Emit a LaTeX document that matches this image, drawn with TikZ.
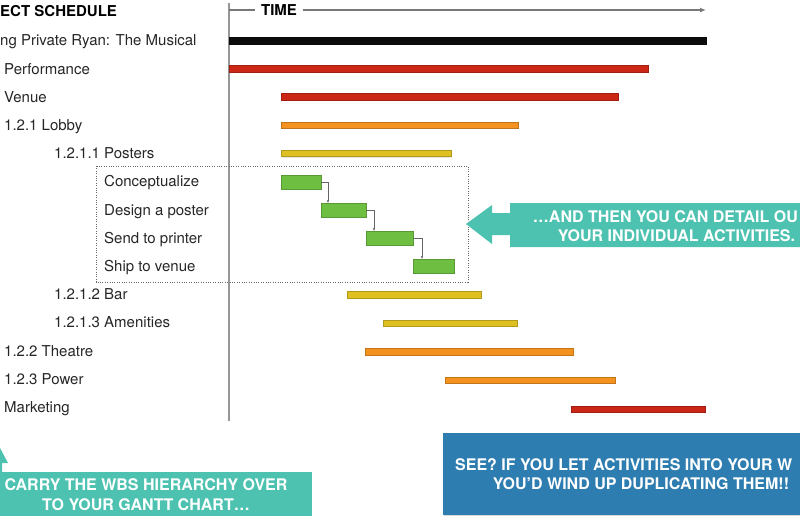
\documentclass[tikz,border=0pt]{standalone}
\usepackage{fontspec}
\setmainfont{TeX Gyre Heros}
\usepackage{tikz}
\usetikzlibrary{arrows.meta,shapes,positioning,shadows}
\usepackage{xcolor}
\definecolor{gtblack}{RGB}{12,12,12}
\definecolor{gtred}{RGB}{204,38,22}
\definecolor{gtorange}{RGB}{243,146,30}
\definecolor{gtyellow}{RGB}{222,192,34}
\definecolor{gtgreen}{RGB}{110,190,66}
\definecolor{gtteal}{RGB}{78,194,177}
\definecolor{gtblue}{RGB}{46,125,176}
\definecolor{gtgray}{RGB}{150,150,150}
\tikzstyle{wbs} = [anchor=west, inner sep=0pt, text height=10.8pt, text depth=0pt, font=\fontsize{15}{18}\selectfont, text=black!85]
\tikzstyle{head} = [wbs, font=\bfseries\fontsize{15}{18}\selectfont, text=black]
\tikzstyle{axis} = [draw=gtgray, line width=1.4pt]
\tikzstyle{link} = [draw=black!60, line width=0.5pt, -{Stealth[length=3pt,width=2.5pt]}]
\tikzstyle{note} = [inner sep=0pt, text height=11.6pt, text depth=0pt, text=white, font=\bfseries\fontsize{16}{19}\selectfont]
\tikzset{
  bar/.style={rectangle, anchor=west, inner sep=0pt, minimum height=6.5pt, fill=#1, draw=#1!80!black, line width=0.4pt,
    drop shadow={shadow xshift=0.6pt, shadow yshift=-1pt, opacity=0.2}},
  task/.style={bar=gtgreen, minimum height=14pt}
}

\begin{document}
\begin{tikzpicture}[x=1pt, y=-1pt]
\useasboundingbox (0,0) rectangle (800,520);
\clip (0,0) rectangle (800,520);

% WBS side
\node[head] (title) at (0,11) {ECT SCHEDULE};
\node[wbs] (spr) at (0,40.5) {ng Private Ryan: The Musical};
\node[wbs] (perf) at (4,68.7) {Performance};
\node[wbs] (venue) at (4,96.9) {Venue};
\node[wbs] (lobby) at (4,125.1) {1.2.1 Lobby};
\node[wbs] (posters) at (54,153.3) {1.2.1.1 Posters};
\node[wbs] (concept) at (104,181.5) {Conceptualize};
\node[wbs] (design) at (104,209.7) {Design a poster};
\node[wbs] (send) at (104,237.9) {Send to printer};
\node[wbs] (ship) at (104,266.1) {Ship to venue};
\node[wbs] (bar) at (54,294.3) {1.2.1.2 Bar};
\node[wbs] (amen) at (54,322.5) {1.2.1.3 Amenities};
\node[wbs] (theatre) at (4,350.7) {1.2.2 Theatre};
\node[wbs] (power) at (4,378.9) {1.2.3 Power};
\node[wbs] (mkt) at (4,407.1) {Marketing};

% time axis
\coordinate (ax0) at (229,3);
\coordinate (ax1) at (229,421);
\coordinate (t0) at (229,10);
\coordinate (t1) at (706,10);
\node[head, anchor=center, inner sep=6pt] (time) at (279,10) {TIME};
\draw[axis] (ax0) -- (ax1);
\draw[draw=gtgray!80!black, line width=1.2pt] (t0) -- (time.west |- t0);
\draw[draw=gtgray!80!black, line width=1.2pt, -{Latex[length=6pt,width=5pt]}] (time.east |- t0) -- (t1);

% Gantt bars
\node[bar=gtblack, minimum width=477pt] (b-spr) at (229,40.5) {};
\node[bar=gtred, minimum width=419pt] (b-perf) at (229,68.7) {};
\node[bar=gtred, minimum width=337pt] (b-venue) at (281,96.9) {};
\node[bar=gtorange, minimum width=237pt] (b-lobby) at (281,125.1) {};
\node[bar=gtyellow, minimum width=170pt] (b-posters) at (281,153.3) {};
\node[task, minimum width=40pt] (t-concept) at (281,182) {};
\node[task, minimum width=45pt] (t-design) at (321,210) {};
\node[task, minimum width=47pt] (t-send) at (366,238) {};
\node[task, minimum width=41pt] (t-ship) at (413,266) {};
\node[bar=gtyellow, minimum width=134pt] (b-bar) at (347,294.8) {};
\node[bar=gtyellow, minimum width=134pt] (b-amen) at (383,323) {};
\node[bar=gtorange, minimum width=208pt] (b-theatre) at (365,351.5) {};
\node[bar=gtorange, minimum width=170pt] (b-power) at (445,380) {};
\node[bar=gtred, minimum width=134pt] (b-mkt) at (571,409) {};

\draw[link] (t-concept.east) -| ([xshift=7pt]t-design.north west);
\draw[link] (t-design.east) -| ([xshift=8pt]t-send.north west);
\draw[link] (t-send.east) -| ([xshift=9pt]t-ship.north west);

% activities box
\draw[black!60, line width=1pt, dash pattern=on 1pt off 1.4pt] (96,166) rectangle (468,282);

% callouts
\fill[gtteal] (466,224) -- (492,205) -- (492,213) -- (510,213) -- (510,203) -- (810,203)
  -- (810,247) -- (510,247) -- (510,235) -- (492,235) -- (492,244) -- cycle;
\node[note, anchor=east] (detail1) at (798,216.5) {…AND THEN YOU CAN DETAIL OU};
\node[note, anchor=center] (detail2) at (676.5,235.5) {YOUR INDIVIDUAL ACTIVITIES.};

\fill[gtteal] (-1,446) -- (8,463) -- (2,463) -- (2,472) -- (-4,472) -- (-4,463) -- (-10,463) -- cycle;
\fill[gtteal] (-5,472) rectangle (312,516);
\node[note] (carry1) at (146,485) {CARRY THE WBS HIERARCHY OVER};
\node[note] (carry2) at (146,505) {TO YOUR GANTT CHART…};

\fill[gtblue, drop shadow={shadow xshift=0.8pt, shadow yshift=-1.2pt, opacity=0.3}] (443,433) rectangle (812,515);
\node[note, anchor=west] (see1) at (455,465) {SEE? IF YOU LET ACTIVITIES INTO YOUR W};
\node[note] (see2) at (641,483.5) {YOU’D WIND UP DUPLICATING THEM!!};
\end{tikzpicture}
\end{document}
